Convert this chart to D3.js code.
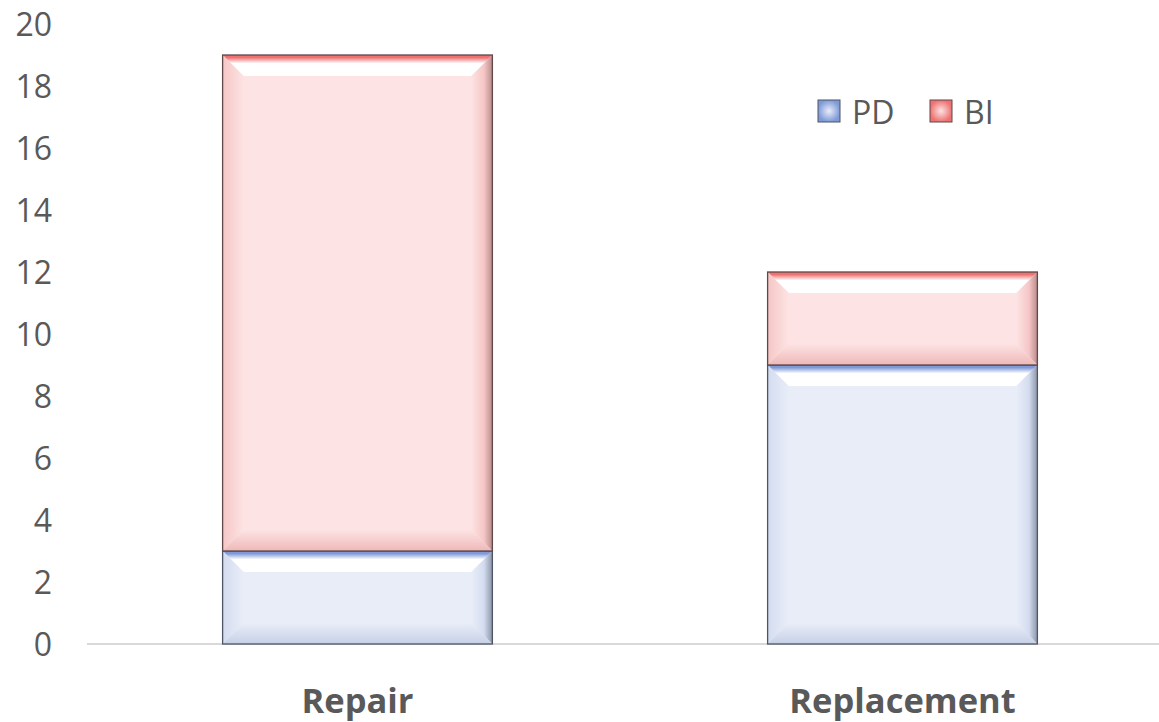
<!DOCTYPE html>
<html>
<head>
<meta charset="utf-8">
<script src="https://cdn.jsdelivr.net/npm/d3@7"></script>
<style>
  body { margin: 0; background: #fff; }
  svg { display: block; font-family: "Open Sans", "Noto Sans", sans-serif; }
</style>
</head>
<body>
<svg id="chart"></svg>
<script>
const categories = ['Repair', 'Replacement'];
const pdValues = [3, 9];
const biValues = [16, 3];
const seriesNames = ['PD', 'BI'];
const yTicks = [0, 2, 4, 6, 8, 10, 12, 14, 16, 18, 20];

const width = 1159, height = 722;
const margin = {top: 24, right: -16, bottom: 78, left: 85};

const svg = d3.select('#chart').attr('width', width).attr('height', height);

// bevel palettes, one per series
const palettes = {
  PD: {fill: '#e9edf8', edge: '#7f9ad8', light: '#ffffff', left: '#d3dcef', right: '#8d95a8', bottom: '#c6d0e6', stroke: '#4d5566'},
  BI: {fill: '#fde3e3', edge: '#ee7272', light: '#ffffff', left: '#f6c6c6', right: '#b98c8c', bottom: '#efb8b8', stroke: '#5e4848'}
};

const defs = svg.append('defs');
function grad(id, x2, y2, stops) {
  const g = defs.append('linearGradient').attr('id', id)
      .attr('x1', 0).attr('y1', 0).attr('x2', x2).attr('y2', y2);
  stops.forEach(s => g.append('stop').attr('offset', s[0]).attr('stop-color', s[1]));
}
Object.entries(palettes).forEach(([k, p]) => {
  grad(k + '-top', 0, 1, [[0, p.edge], [0.12, p.edge], [0.4, p.light], [1, p.light]]);
  grad(k + '-left', 1, 0, [[0, p.left], [1, p.fill]]);
  grad(k + '-right', 1, 0, [[0, p.fill], [0.6, p.left], [1, p.right]]);
  grad(k + '-bottom', 0, 1, [[0, p.fill], [1, p.bottom]]);
});

const x = d3.scaleBand().domain(categories)
    .range([margin.left, width - margin.right]).paddingInner(0.505).paddingOuter(0.2525);
const y = d3.scaleLinear().domain([0, 20]).range([height - margin.bottom, margin.top]);

// bevelled rectangle
function bevel(g, key, x0, y0, w, h, d) {
  d = Math.min(d, h / 2, w / 2);
  const p = palettes[key];
  g.append('rect').attr('x', x0).attr('y', y0).attr('width', w).attr('height', h).attr('fill', p.fill);
  const x1 = x0 + w, y1 = y0 + h;
  const polys = [
    ['top', [[x0, y0], [x1, y0], [x1 - d, y0 + d], [x0 + d, y0 + d]]],
    ['left', [[x0, y0], [x0 + d, y0 + d], [x0 + d, y1 - d], [x0, y1]]],
    ['right', [[x1, y0], [x1, y1], [x1 - d, y1 - d], [x1 - d, y0 + d]]],
    ['bottom', [[x0, y1], [x0 + d, y1 - d], [x1 - d, y1 - d], [x1, y1]]]
  ];
  polys.forEach(([side, pts]) => {
    g.append('polygon').attr('points', pts.map(q => q.join(',')).join(' '))
        .attr('fill', `url(#${key}-${side})`);
  });
  g.append('rect').attr('x', x0).attr('y', y0).attr('width', w).attr('height', h)
      .attr('fill', 'none').attr('stroke', p.stroke).attr('stroke-width', 1.3);
}

// legend swatch: saturated square with a lighter centre
function swatch(g, key, x0, y0, s) {
  const p = palettes[key];
  const id = key + '-sw';
  const rg = defs.append('radialGradient').attr('id', id);
  rg.append('stop').attr('offset', 0).attr('stop-color', p.fill);
  rg.append('stop').attr('offset', 1).attr('stop-color', p.edge);
  g.append('rect').attr('x', x0).attr('y', y0).attr('width', s).attr('height', s)
      .attr('fill', `url(#${id})`).attr('stroke', p.stroke).attr('stroke-width', 1);
}

// y axis labels
svg.append('g').selectAll('text').data(yTicks).join('text')
    .attr('x', 52).attr('y', d => y(d)).attr('dy', '0.36em')
    .attr('text-anchor', 'end').attr('font-size', 32).attr('fill', '#595959')
    .text(d => d);

// baseline
svg.append('line').attr('x1', 87).attr('x2', width)
    .attr('y1', y(0)).attr('y2', y(0)).attr('stroke', '#d9d9d9').attr('stroke-width', 2);

// stacked bars
const stacked = categories.map((c, i) => ({cat: c, PD: pdValues[i], BI: biValues[i]}));
const stack = d3.stack().keys(seriesNames)(stacked);
const bars = svg.append('g');
stack.forEach(layer => {
  layer.forEach((seg, i) => {
    const y0 = y(seg[1]), y1 = y(seg[0]);
    bevel(bars, layer.key, x(categories[i]), y0, x.bandwidth(), y1 - y0, 21);
  });
});

// category labels
svg.append('g').selectAll('text').data(categories).join('text')
    .attr('x', d => x(d) + x.bandwidth() / 2).attr('y', 713)
    .attr('text-anchor', 'middle').attr('font-size', 34.5).attr('font-weight', 'bold')
    .attr('fill', '#595959').text(d => d);

// legend
const legend = svg.append('g');
const legendX = [818, 930];
seriesNames.forEach((s, i) => {
  swatch(legend, s, legendX[i], 100, 22);
  legend.append('text').attr('x', legendX[i] + 34).attr('y', 112).attr('dy', '0.36em')
      .attr('font-size', 32).attr('fill', '#595959').text(s);
});
</script>
</body>
</html>
